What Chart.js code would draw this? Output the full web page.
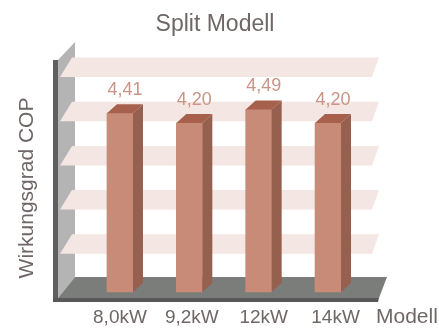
<!DOCTYPE html>
<html lang="de">
<head>
<meta charset="utf-8">
<title>Split Modell</title>
<script src="https://cdn.jsdelivr.net/npm/chart.js@4"></script>
<style>
  html, body { margin: 0; padding: 0; background: #fff; overflow: hidden; }
  #wrap { width: 439px; height: 329px; }
  canvas { filter: blur(0.4px); }
</style>
</head>
<body>
<div id="wrap"><canvas id="chart"></canvas></div>
<script>
// ── Daten ─────────────────────────────────
const modelle = ['8,0kW', '9,2kW', '12kW', '14kW'];
const cop = [4.41, 4.20, 4.49, 4.20];
const copLabels = ['4,41', '4,20', '4,49', '4,20'];
const gridTicks = [0, 1, 2, 3, 4, 5];

const FONT = "'Liberation Sans', Arial, sans-serif";
const TEXT = '#6f6765';

// Boden, Wand und Bänder der 3D-Optik, hinter den Balken
const backdrop = {
  id: 'backdrop',
  beforeDatasetsDraw(chart) {
    const { ctx, chartArea: a, scales } = chart;
    const poly = (color, pts) => {
      ctx.fillStyle = color;
      ctx.beginPath();
      pts.forEach(([x, y], i) => (i ? ctx.lineTo(x, y) : ctx.moveTo(x, y)));
      ctx.closePath();
      ctx.fill();
    };
    const wallX = 58, wallBack = 75, bottom = a.bottom, top = a.top;

    // Wand
    poly('#b4b4b4', [[wallX, top], [wallBack, top - 18], [wallBack, bottom - 21], [wallX, bottom]]);
    poly('#5f5f5f', [[53, top], [wallX, top], [wallX, bottom + 4], [53, bottom + 4]]);

    // Boden
    poly('#7b7d7b', [[wallX, bottom], [wallBack, bottom - 21], [387, bottom - 21], [379, bottom]]);
    poly('#585858', [[53, bottom], [379, bottom], [378, bottom + 4], [53, bottom + 4]]);

    // Bänder je Tick (der unterste ist der Boden)
    gridTicks.slice(1).forEach((t) => {
      const y = scales.yGrid.getPixelForValue(t);
      poly('#f3e6e3', [[60, y], [72, y - 19.5], [379, y - 19.5], [372, y]]);
    });
  },
};

// Seiten- und Deckfläche der Balken, Werte und Beschriftung
const bars3d = {
  id: 'bars3d',
  afterDatasetsDraw(chart) {
    const { ctx, scales } = chart;
    const dx = 10, dy = 9;
    chart.getDatasetMeta(0).data.forEach((bar, i) => {
      const l = bar.x - bar.width / 2, r = bar.x + bar.width / 2;
      ctx.fillStyle = '#96604f';
      ctx.beginPath();
      ctx.moveTo(r, bar.y);
      ctx.lineTo(r + dx, bar.y - dy);
      ctx.lineTo(r + dx, bar.base - dy);
      ctx.lineTo(r, bar.base);
      ctx.closePath();
      ctx.fill();

      ctx.fillStyle = '#a6604c';
      ctx.beginPath();
      ctx.moveTo(l, bar.y);
      ctx.lineTo(l + dx, bar.y - dy);
      ctx.lineTo(r + dx, bar.y - dy);
      ctx.lineTo(r, bar.y);
      ctx.closePath();
      ctx.fill();

      ctx.textAlign = 'center';
      ctx.textBaseline = 'middle';
      ctx.fillStyle = '#cb9484';
      ctx.font = `18px ${FONT}`;
      ctx.fillText(copLabels[i], bar.x + 5, bar.y - 23);

      // Achsenbeschriftung läuft etwas breiter als die Balken
      ctx.fillStyle = TEXT;
      ctx.font = `19px ${FONT}`;
      ctx.fillText(modelle[i], scales.x.getPixelForValue(i) + i * 2.5, 318);
    });

    ctx.font = `21px ${FONT}`;
    ctx.textAlign = 'left';
    ctx.fillText('Modell', 376, 317);

    ctx.textAlign = 'center';
    ctx.font = `23px ${FONT}`;
    ctx.fillText('Split Modell', 215, 25);

    ctx.save();
    ctx.translate(27, 188);
    ctx.rotate(-Math.PI / 2);
    ctx.font = `21px ${FONT}`;
    ctx.fillText('Wirkungsgrad COP', 0, 0);
    ctx.restore();
  },
};

new Chart(document.getElementById('chart'), {
  type: 'bar',
  data: {
    labels: modelle,
    datasets: [{
      data: cop,
      backgroundColor: '#c78b78',
      barThickness: 26,
      base: 0.604,
      yAxisID: 'y',
    }],
  },
  options: {
    responsive: true,
    maintainAspectRatio: false,
    animation: false,
    layout: { padding: { left: 85.3, right: 76.3, top: 60, bottom: 31 } },
    plugins: { legend: { display: false }, tooltip: { enabled: false } },
    scales: {
      x: { display: false },
      y: { display: false, min: 0.477, max: 5.541 },
      yGrid: { display: false, min: 0, max: 5.385 },
    },
  },
  plugins: [backdrop, bars3d],
});
</script>
</body>
</html>
